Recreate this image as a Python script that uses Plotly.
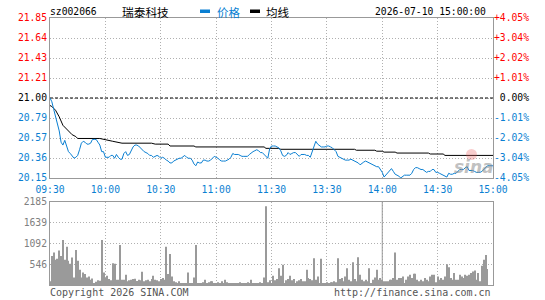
import plotly.graph_objects as go

# ---------------- data ----------------
stock_code = "sz002066"
stock_name = "瑞泰科技"
timestamp = "2026-07-10 15:00:00"
prev_close = 21.00

minutes = list(range(241))
price = [
    21.00, 20.96, 20.88, 20.81, 20.72, 20.65, 20.53, 20.50, 20.55, 20.48,
    20.43, 20.41, 20.38, 20.36, 20.37, 20.39, 20.45, 20.52, 20.54, 20.53,
    20.51, 20.51, 20.52, 20.56, 20.56, 20.56, 20.53, 20.50, 20.43, 20.43,
    20.37, 20.37, 20.37, 20.39, 20.39, 20.36, 20.40, 20.37, 20.35, 20.35,
    20.41, 20.43, 20.39, 20.40, 20.45, 20.48, 20.50, 20.50, 20.49, 20.47,
    20.44, 20.43, 20.42, 20.41, 20.39, 20.39, 20.37, 20.38, 20.39, 20.38,
    20.36, 20.37, 20.36, 20.34, 20.33, 20.31, 20.31, 20.33, 20.34, 20.35,
    20.36, 20.36, 20.38, 20.39, 20.37, 20.36, 20.36, 20.34, 20.30, 20.28,
    20.32, 20.31, 20.31, 20.34, 20.34, 20.33, 20.33, 20.34, 20.36, 20.38,
    20.37, 20.36, 20.34, 20.33, 20.33, 20.33, 20.34, 20.35, 20.37, 20.41,
    20.40, 20.40, 20.40, 20.39, 20.38, 20.38, 20.38, 20.38, 20.40, 20.42,
    20.43, 20.44, 20.45, 20.44, 20.42, 20.42, 20.40, 20.37, 20.36, 20.46,
    20.49, 20.49, 20.49, 20.48, 20.47, 20.44, 20.39, 20.38, 20.39, 20.42,
    20.40, 20.41, 20.42, 20.42, 20.40, 20.38, 20.40, 20.40, 20.40, 20.39,
    20.39, 20.37, 20.43, 20.50, 20.54, 20.51, 20.49, 20.48, 20.48, 20.48,
    20.49, 20.49, 20.48, 20.47, 20.45, 20.43, 20.38, 20.37, 20.36, 20.35,
    20.34, 20.34, 20.34, 20.35, 20.34, 20.33, 20.32, 20.31, 20.29, 20.31,
    20.32, 20.33, 20.32, 20.31, 20.30, 20.29, 20.28, 20.27, 20.27, 20.24,
    20.21, 20.16, 20.18, 20.21, 20.23, 20.25, 20.22, 20.19, 20.18, 20.17,
    20.15, 20.17, 20.18, 20.18, 20.18, 20.18, 20.20, 20.24, 20.26, 20.26,
    20.25, 20.24, 20.24, 20.22, 20.21, 20.22, 20.22, 20.24, 20.24, 20.21,
    20.21, 20.20, 20.19, 20.18, 20.17, 20.16, 20.20, 20.19, 20.19, 20.20,
    20.20, 20.22, 20.24, 20.24, 20.24, 20.26, 20.27, 20.23, 20.23, 20.23,
    20.22, 20.21, 20.21, 20.21, 20.22, 20.24, 20.26, 20.28, 20.28, 20.28, 20.28,
]

avg_t = [0, 1, 3, 5, 7, 9, 10, 12, 14, 15, 27, 30, 34, 39, 55, 57, 64, 65, 78, 79,
         116, 117, 124, 125, 165, 166, 176, 177, 180, 181, 187, 188, 205, 206, 213, 214, 240]
avg_v = [20.92, 20.91, 20.87, 20.80, 20.71, 20.67, 20.65, 20.61, 20.59, 20.57, 20.57, 20.56,
         20.54, 20.52, 20.52, 20.51, 20.51, 20.49, 20.49, 20.48, 20.48, 20.465, 20.465, 20.455,
         20.455, 20.445, 20.445, 20.435, 20.435, 20.425, 20.425, 20.415, 20.415, 20.405,
         20.405, 20.39, 20.39]

volume = [
    96, 766, 853, 662, 688, 906, 766, 1185, 662, 1010,
    636, 557, 723, 200, 923, 636, 400, 200, 331, 287,
    200, 226, 139, 174, 44, 87, 122, 113, 1185, 331,
    183, 244, 157, 122, 575, 557, 139, 139, 1054, 139,
    139, 270, 96, 122, 139, 157, 165, 105, 139, 122,
    348, 96, 122, 139, 96, 157, 244, 139, 122, 96,
    157, 183, 139, 1010, 287, 819, 226, 96, 70, 52,
    96, 52, 44, 52, 52, 331, 52, 52, 200, 1054,
    35, 35, 52, 70, 139, 52, 70, 96, 96, 52,
    35, 70, 52, 96, 52, 139, 70, 52, 52, 35,
    52, 35, 52, 70, 52, 35, 52, 70, 52, 139,
    52, 35, 52, 52, 70, 52, 200, 2073, 70, 122,
    52, 244, 122, 157, 440, 244, 531, 35, 122, 157,
    244, 122, 157, 52, 96, 122, 157, 96, 96, 400,
    183, 157, 122, 705, 139, 226, 52, 688, 52, 52,
    70, 52, 70, 70, 96, 70, 705, 157, 183, 96,
    226, 444, 139, 96, 601, 157, 96, 732, 270, 139,
    96, 139, 96, 444, 52, 139, 200, 400, 139, 183,
    139, 96, 96, 96, 139, 139, 183, 853, 139, 183,
    183, 226, 52, 139, 226, 270, 183, 296, 296, 139,
    96, 139, 96, 183, 139, 96, 226, 270, 270, 70,
    226, 139, 183, 139, 226, 549, 470, 183, 139, 314,
    139, 139, 270, 226, 183, 270, 244, 270, 314, 357,
    383, 139, 314, 96, 505, 662, 793, 418, 0, 0, 0,
]

time_ticks = [0, 30, 60, 90, 120, 150, 180, 210, 240]
time_labels = ["09:30", "10:00", "10:30", "11:00", "11:30", "13:30", "14:00", "14:30", "15:00"]
price_ticks = [20.15, 20.3625, 20.575, 20.7875, 21.00, 21.2125, 21.425, 21.6375, 21.85]
price_labels = ["20.15", "20.36", "20.57", "20.79", "21.00", "21.21", "21.43", "21.64", "21.85"]
pct_labels = ["-4.05%", "-3.04%", "-2.02%", "-1.01%", "\u00a00.00%", "+1.01%", "+2.02%", "+3.04%", "+4.05%"]
vol_ticks = [546, 1092, 1639, 2185]
vol_labels = ["546", "1092", "1639", "2185"]

# ---------------- style ----------------
W, H = 545, 300
BLUE = "#0a7fd2"
RED = "#ff0000"
GRID = "#b0b0b0"
FRAME = "#999999"
MONO = "DejaVu Sans Mono"
CJK = "Noto Sans CJK SC"


def px(x):
    return x / W


def py(y):
    return 1 - y / H


def colour_for(v, ref):
    if abs(v - ref) < 1e-9:
        return "#000000"
    return RED if v > ref else BLUE


price_text = [f"<span style='color:{colour_for(v, prev_close)}'>{t}</span>"
              for v, t in zip(price_ticks, price_labels)]
pct_vals = [(v / prev_close - 1) * 100 for v in price_ticks]
pct_text = [f"<span style='color:{colour_for(v, prev_close)}'>{t}</span>"
            for v, t in zip(price_ticks, pct_labels)]

fig = go.Figure()

fig.add_trace(go.Scatter(x=[minutes[0], minutes[-1]], y=[prev_close, prev_close], mode="lines",
                         line=dict(color="#000000", width=1, dash="3px,2px"),
                         xaxis="x", yaxis="y", hoverinfo="skip"))
fig.add_trace(go.Scatter(x=avg_t, y=avg_v, mode="lines", line=dict(color="#000000", width=1),
                         xaxis="x", yaxis="y", name="均线"))
fig.add_trace(go.Scatter(x=minutes, y=price, mode="lines", line=dict(color=BLUE, width=1),
                         xaxis="x", yaxis="y", name="价格"))
fig.add_trace(go.Scatter(x=[minutes[0]], y=[0], mode="lines", opacity=0,
                         xaxis="x", yaxis="y2", hoverinfo="skip"))
fig.add_trace(go.Bar(x=minutes, y=volume, width=0.55, marker=dict(color="#9a9a9a", line=dict(width=0)),
                     xaxis="x3", yaxis="y3"))

common_x = dict(domain=[px(50), px(493)], range=[0, 240], showgrid=True, gridcolor=GRID,
                griddash="1px,2px", gridwidth=1, showline=True, mirror=True, linecolor=FRAME,
                linewidth=1, zeroline=False, ticks="", fixedrange=True, automargin=False)

fig.update_layout(
    width=W, height=H, margin=dict(l=0, r=0, t=0, b=0, autoexpand=False),
    paper_bgcolor="white", plot_bgcolor="white", showlegend=False,
    font=dict(family=MONO, size=10, color="#000"),
    xaxis=dict(common_x, anchor="y", tickvals=time_ticks, ticktext=time_labels,
               tickfont=dict(family=MONO, size=9.7, color=BLUE), ticklabelstandoff=2),
    yaxis=dict(domain=[py(178), py(18)], range=[20.15, 21.85], tickvals=price_ticks,
               ticktext=price_text, tickfont=dict(family=MONO, size=9.7), showgrid=True,
               gridcolor=GRID, griddash="1px,2px", showline=True, mirror=True, linecolor=FRAME,
               zeroline=False, ticks="", anchor="x", automargin=False),
    yaxis2=dict(overlaying="y", side="right", anchor="x", range=[pct_vals[0], pct_vals[-1]],
                tickvals=pct_vals, ticktext=pct_text, tickfont=dict(family=MONO, size=9.7),
                showgrid=False, zeroline=False, ticks="", showline=False, automargin=False),
    xaxis3=dict(common_x, anchor="y3", tickvals=time_ticks[1:-1], showticklabels=False),
    yaxis3=dict(domain=[py(285), py(202)], range=[0, 2185], tickvals=vol_ticks, ticktext=vol_labels,
                tickfont=dict(family=MONO, size=9.7, color="#808080"), showgrid=True,
                gridcolor=GRID, griddash="1px,2px", showline=True, mirror=True, linecolor=FRAME,
                zeroline=False, ticks="", anchor="x3", automargin=False),
)

# solid 14:00 divider in the volume panel
fig.add_shape(type="line", xref="x3", yref="y3 domain", x0=time_ticks[6], x1=time_ticks[6],
              y0=0, y1=1, line=dict(color=FRAME, width=1))

# legend swatches
fig.add_shape(type="rect", xref="paper", yref="paper", x0=px(200), x1=px(210), y0=py(13), y1=py(9.5),
              fillcolor=BLUE, line=dict(width=0))
fig.add_shape(type="rect", xref="paper", yref="paper", x0=px(250), x1=px(260), y0=py(13), y1=py(9.5),
              fillcolor="#000000", line=dict(width=0))

# watermark logo (eye)
fig.add_shape(type="circle", xref="paper", yref="paper", x0=px(466), x1=px(477), y0=py(160), y1=py(149),
              fillcolor="rgba(235,90,90,0.30)", line=dict(width=0))


def note(text, x, y, anchor="left", color="#000", family=MONO, size=9.7, **kw):
    fig.add_annotation(text=text, x=px(x), y=py(y), xref="paper", yref="paper", xanchor=anchor,
                       yanchor="middle", showarrow=False, font=dict(family=family, size=size, color=color),
                       **kw)


note(stock_code, 48, 11.5)
note(stock_name, 120, 11.5, family=CJK, size=11.7)
note("价格", 215, 11.5, color=BLUE, family=CJK, size=11.5)
note("均线", 264, 11.5, family=CJK, size=11.5)
note(timestamp, 488, 11.5, anchor="right")
note("Copyright 2026 SINA.COM", 48, 292.5, color="#555555", size=10)
note("http://finance.sina.com.cn", 493, 292.5, anchor="right", color="#555555", size=10)

# watermark text
fig.add_annotation(text="<b><i>sina</i></b>", x=px(474), y=py(167), xref="paper", yref="paper",
                   xanchor="center", yanchor="middle", showarrow=False,
                   font=dict(family="DejaVu Sans", size=17, color="rgba(140,140,140,0.55)"))

fig.write_html("out.html")
